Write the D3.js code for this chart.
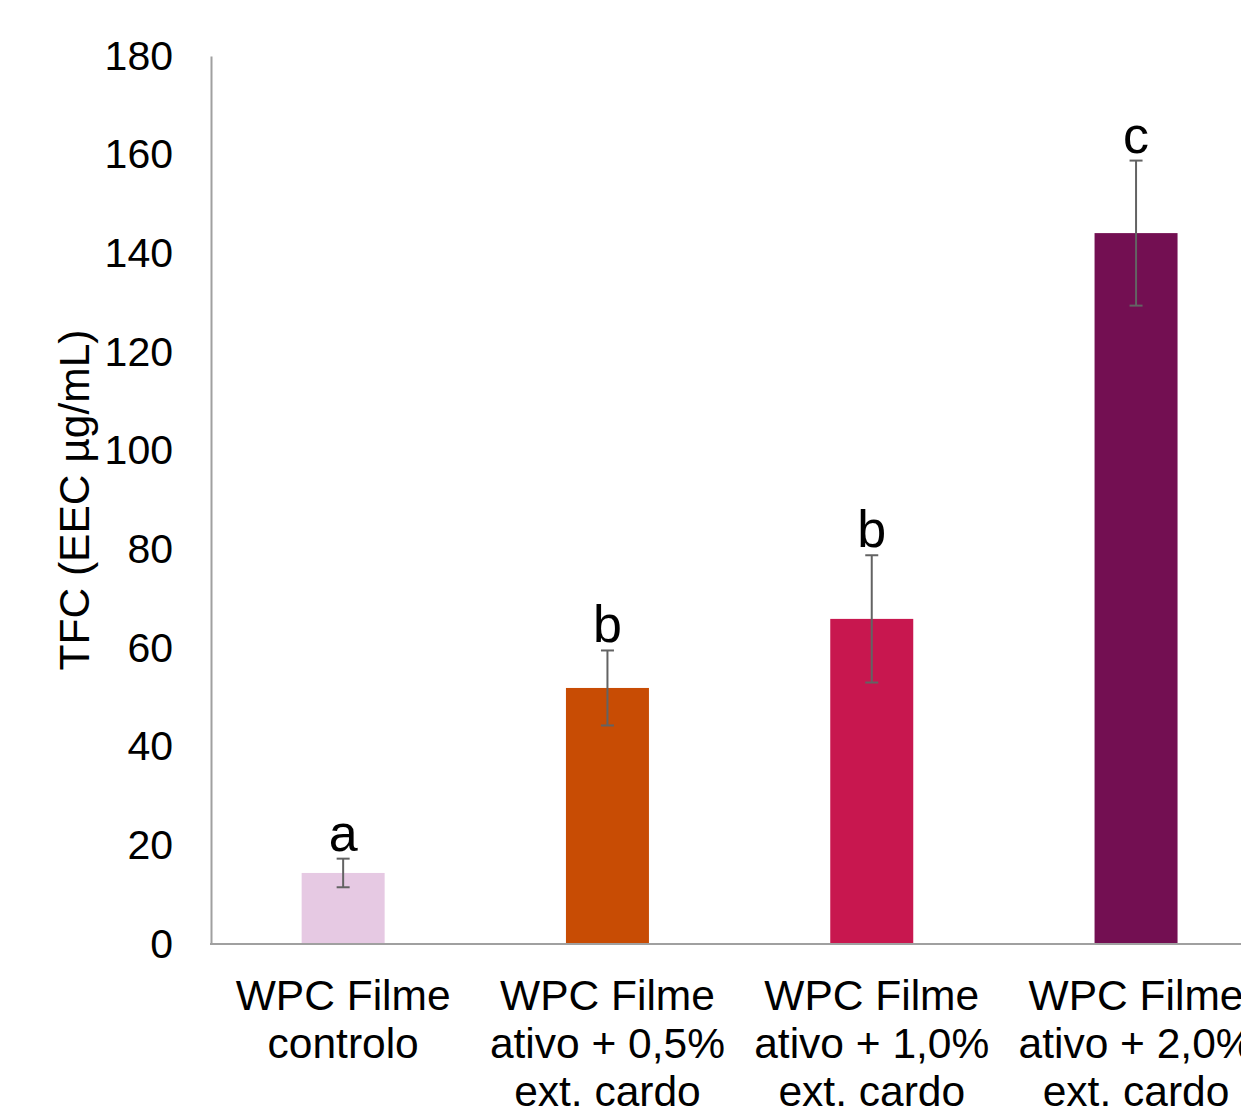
<!DOCTYPE html>
<html>
<head>
<meta charset="utf-8">
<script src="https://cdn.jsdelivr.net/npm/d3@7"></script>
<style>
  body { margin: 0; background: #fff; }
  svg { display: block; font-family: "Liberation Sans", Arial, sans-serif; }
</style>
</head>
<body>
<svg id="chart" width="1241" height="1111"></svg>
<script>
const categories = [
  ["WPC Filme", "controlo"],
  ["WPC Filme", "ativo + 0,5%", "ext. cardo"],
  ["WPC Filme", "ativo + 1,0%", "ext. cardo"],
  ["WPC Filme", "ativo + 2,0%", "ext. cardo"]
];
const values = [14.4, 51.9, 65.9, 144.1];
const errors = [2.9, 7.6, 12.9, 14.7];
const letters = ["a", "b", "b", "c"];
const colors = ["#E6C9E3", "#C84C04", "#C8174F", "#730F52"];
const yTicks = [0, 20, 40, 60, 80, 100, 120, 140, 160, 180];

const svg = d3.select("#chart");
const plotLeft = 211, plotTop = 56, plotBottom = 944;
const band = 264.3;

const x = d3.scaleBand()
  .domain(d3.range(values.length))
  .range([plotLeft, plotLeft + band * values.length])
  .paddingInner(0.686)
  .paddingOuter(0.343);

const y = d3.scaleLinear().domain([0, 180]).range([plotBottom, plotTop]);

// bars
svg.selectAll("rect.bar")
  .data(values)
  .enter().append("rect")
  .attr("class", "bar")
  .attr("x", (d, i) => x(i))
  .attr("width", x.bandwidth())
  .attr("y", d => y(d))
  .attr("height", d => y(0) - y(d))
  .attr("fill", (d, i) => colors[i]);

// error bars
const errG = svg.selectAll("g.err")
  .data(values)
  .enter().append("g")
  .attr("class", "err")
  .attr("stroke", "#636363")
  .attr("stroke-width", 2);
const cx = i => x(i) + x.bandwidth() / 2;
errG.append("line")
  .attr("x1", (d, i) => cx(i)).attr("x2", (d, i) => cx(i))
  .attr("y1", (d, i) => y(d + errors[i])).attr("y2", (d, i) => y(d - errors[i]));
errG.append("line")
  .attr("x1", (d, i) => cx(i) - 6.5).attr("x2", (d, i) => cx(i) + 6.5)
  .attr("y1", (d, i) => y(d + errors[i])).attr("y2", (d, i) => y(d + errors[i]));
errG.append("line")
  .attr("x1", (d, i) => cx(i) - 6.5).attr("x2", (d, i) => cx(i) + 6.5)
  .attr("y1", (d, i) => y(d - errors[i])).attr("y2", (d, i) => y(d - errors[i]));

// significance letters
svg.selectAll("text.letter")
  .data(values)
  .enter().append("text")
  .attr("class", "letter")
  .attr("x", (d, i) => cx(i))
  .attr("y", (d, i) => y(d + errors[i]) - 8)
  .attr("text-anchor", "middle")
  .attr("font-size", 52)
  .attr("fill", "#000")
  .text((d, i) => letters[i]);

// y axis
const yAxis = svg.append("g")
  .attr("transform", `translate(${plotLeft},0)`)
  .call(d3.axisLeft(y).tickValues(yTicks).tickSize(0).tickPadding(38));
yAxis.select(".domain").attr("stroke", "#A0A0A0").attr("stroke-width", 2);
yAxis.selectAll("text").attr("font-size", 41).attr("fill", "#000")
  .attr("font-family", "'Liberation Sans', Arial, sans-serif");

// x axis line
svg.append("line")
  .attr("x1", plotLeft - 1).attr("x2", 1241)
  .attr("y1", plotBottom).attr("y2", plotBottom)
  .attr("stroke", "#A0A0A0").attr("stroke-width", 2);

// category labels
const catText = svg.selectAll("text.cat")
  .data(categories)
  .enter().append("text")
  .attr("class", "cat")
  .attr("text-anchor", "middle")
  .attr("font-size", 42.5)
  .attr("fill", "#000");
catText.selectAll("tspan")
  .data((d, i) => d.map(t => ({ t, i })))
  .enter().append("tspan")
  .attr("x", d => cx(d.i))
  .attr("y", (d, j) => 1010 + j * 48)
  .text(d => d.t);

// y axis title
svg.append("text")
  .attr("transform", `translate(89,${(plotTop + plotBottom) / 2}) rotate(-90)`)
  .attr("text-anchor", "middle")
  .attr("font-size", 42.5)
  .attr("fill", "#000")
  .text("TFC (EEC µg/mL)");
</script>
</body>
</html>
